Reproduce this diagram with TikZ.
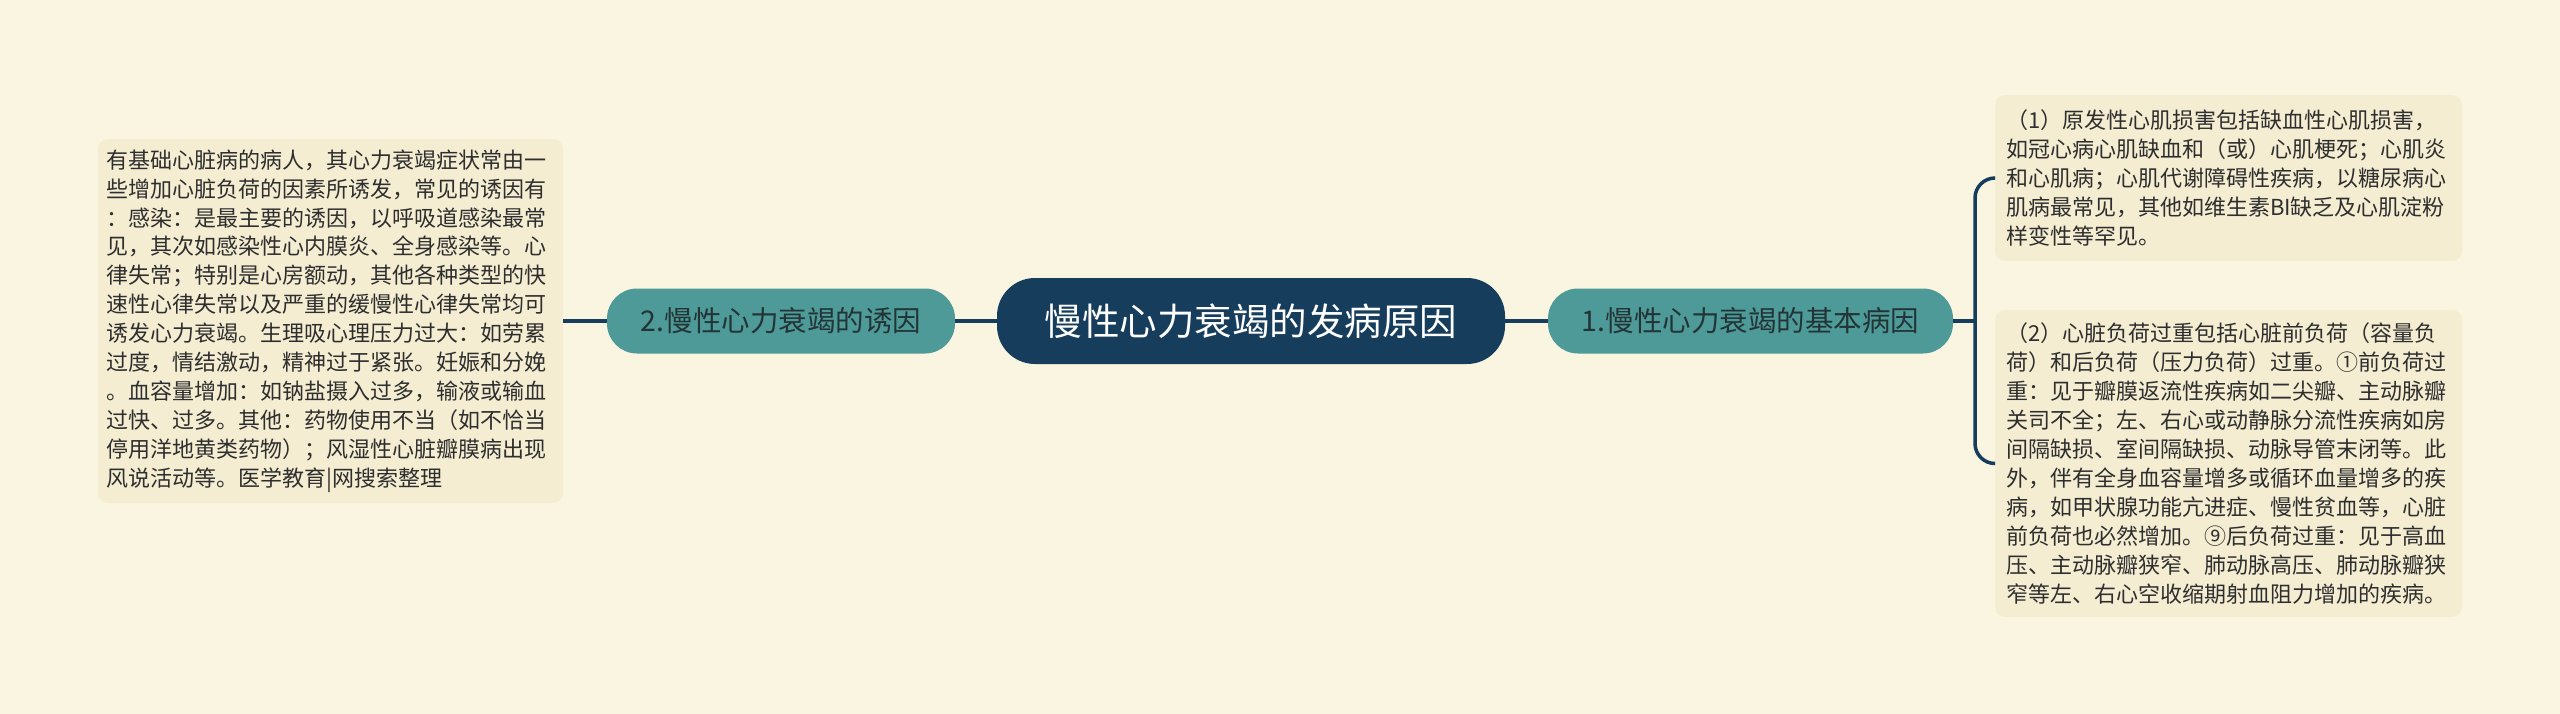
\documentclass[tikz,border=0pt]{standalone}
\usepackage{fontspec}
\setmainfont{Noto Sans CJK SC}
\definecolor{bg}{HTML}{FAF5E1}
\definecolor{boxbg}{HTML}{F4EDD2}
\definecolor{navy}{HTML}{173D5D}
\definecolor{tealnode}{HTML}{4E9A98}
\definecolor{txt}{HTML}{2E2E2E}
\definecolor{topictxt}{HTML}{233436}
\begin{document}
\begin{tikzpicture}[x=1pt,y=1pt,
  conn/.style={draw=navy, line width=3.5pt},
  textbox/.style={fill=boxbg, rounded corners=10pt, align=left, text=txt,
    font=\fontsize{22}{28.9}\selectfont, inner sep=0pt},
  topic/.style={fill=tealnode, rounded corners=30pt, text=topictxt,
    font=\fontsize{28.5}{34}\selectfont, minimum height=65pt, inner sep=0pt},
  root/.style={fill=navy, rounded corners=38pt, text=white,
    font=\fontsize{37.5}{44}\selectfont, minimum height=86pt, minimum width=508pt, inner sep=0pt},
]
\fill[bg] (0,0) rectangle (2560,-714);
\useasboundingbox (0,0) rectangle (2560,-714);

\node[root] (c) at (1251,-321) {慢性心力衰竭的发病原因};
\node[topic, minimum width=348pt] (l) at (781,-321) {2.慢性心力衰竭的诱因};
\node[topic, minimum width=405pt] (r) at (1750.5,-321) {1.慢性心力衰竭的基本病因};

\node[textbox, text width=448pt, minimum width=465pt, minimum height=364pt] (lb) at (330.5,-321) {%
有基础心脏病的病人，其心力衰竭症状常由一\\
些增加心脏负荷的因素所诱发，常见的诱因有\\
：感染：是最主要的诱因，以呼吸道感染最常\\
见，其次如感染性心内膜炎、全身感染等。心\\
律失常；特别是心房额动，其他各种类型的快\\
速性心律失常以及严重的缓慢性心律失常均可\\
诱发心力衰竭。生理吸心理压力过大：如劳累\\
过度，情结激动，精神过于紧张。妊娠和分娩\\
。血容量增加：如钠盐摄入过多，输液或输血\\
过快、过多。其他：药物使用不当（如不恰当\\
停用洋地黄类药物）；风湿性心脏瓣膜病出现\\
风说活动等。医学教育|网搜索整理};

\node[textbox, text width=445pt, minimum width=467pt, minimum height=166pt] (b1) at (2228.5,-178) {%
（1）原发性心肌损害包括缺血性心肌损害，\\
如冠心病心肌缺血和（或）心肌梗死；心肌炎\\
和心肌病；心肌代谢障碍性疾病，以糖尿病心\\
肌病最常见，其他如维生素BI缺乏及心肌淀粉\\
样变性等罕见。};

\node[textbox, text width=445pt, minimum width=467pt, minimum height=307pt] (b2) at (2228.5,-463.5) {%
（2）心脏负荷过重包括心脏前负荷（容量负\\
荷）和后负荷（压力负荷）过重。①前负荷过\\
重：见于瓣膜返流性疾病如二尖瓣、主动脉瓣\\
关司不全；左、右心或动静脉分流性疾病如房\\
间隔缺损、室间隔缺损、动脉导管末闭等。此\\
外，伴有全身血容量增多或循环血量增多的疾\\
病，如甲状腺功能亢进症、慢性贫血等，心脏\\
前负荷也必然增加。⑨后负荷过重：见于高血\\
压、主动脉瓣狭窄、肺动脉高压、肺动脉瓣狭\\
窄等左、右心空收缩期射血阻力增加的疾病。};

\draw[conn] (lb.east |- l.west) -- (l.west);
\draw[conn] (l.east) -- (c.west);
\draw[conn] (c.east) -- (r.west);
\coordinate (j) at (1975,-321);
\draw[conn] (r.east) -- (j);
\draw[conn, rounded corners=20pt] (j) |- (b1.west);
\draw[conn, rounded corners=20pt] (j) |- (b2.west);
\end{tikzpicture}
\end{document}
